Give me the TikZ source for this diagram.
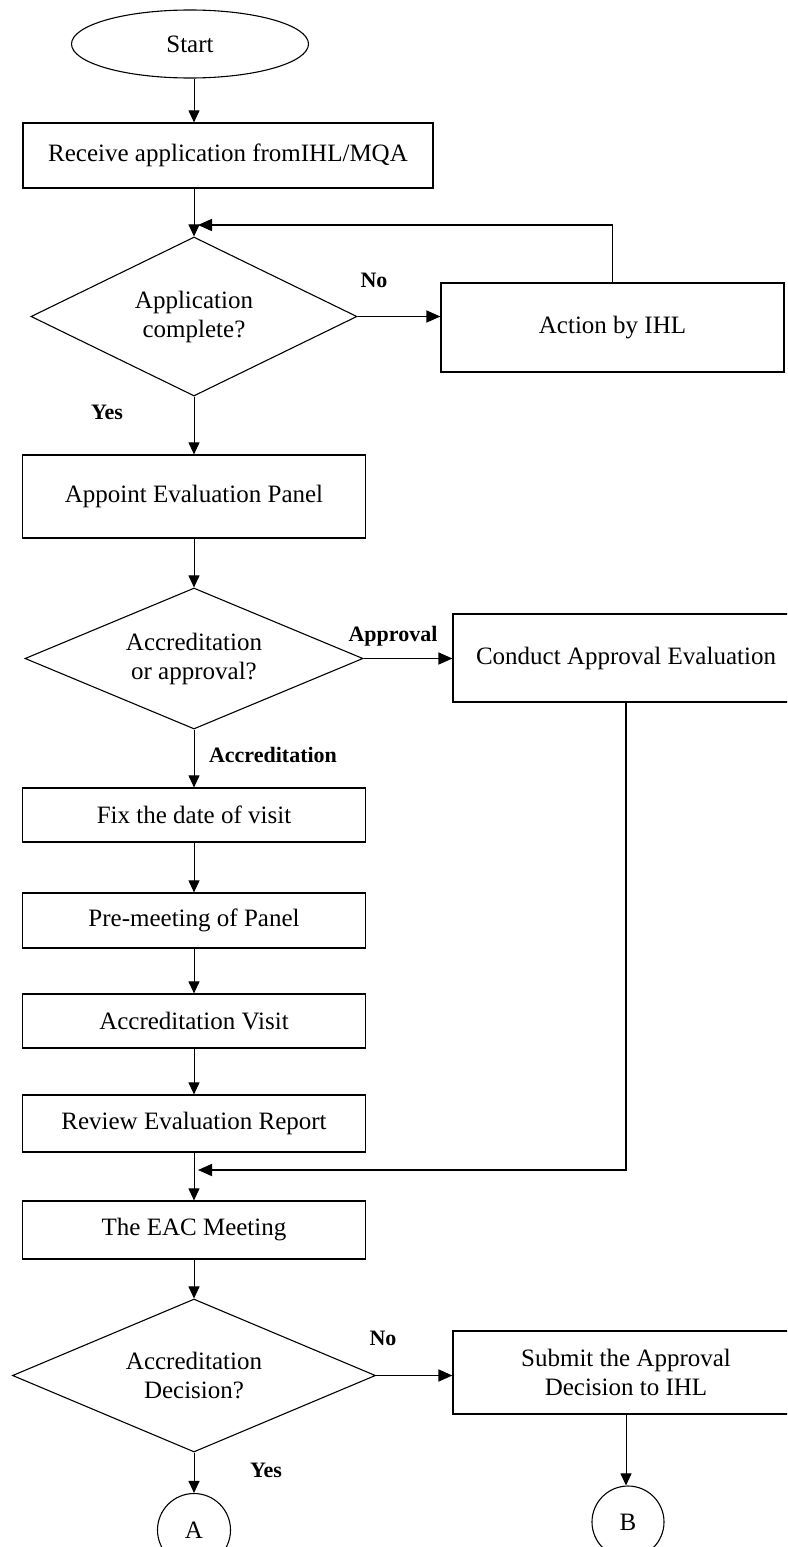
\documentclass[tikz,border=0pt]{standalone}
\usepackage{fontspec}
\setmainfont{Liberation Serif}
\usetikzlibrary{shapes.geometric,arrows.meta}

\begin{document}
\begin{tikzpicture}[x=1pt,y=-1pt,
    box/.style={draw,rectangle,line width=1.2pt,minimum width=343pt,inner sep=0pt,font=\fontsize{25}{29}\selectfont,align=center},
    decision/.style={draw,diamond,aspect=2,inner sep=0pt,line width=1.1pt,font=\fontsize{25}{29}\selectfont,align=center},
    term/.style={draw,ellipse,inner sep=0pt,line width=1.1pt,font=\fontsize{25}{29}\selectfont},
    lbl/.style={font=\fontsize{22}{26}\selectfont\bfseries},
    arr/.style={-{Triangle[length=12pt,width=11pt]},line width=1pt},
    thickarr/.style={-{Triangle[length=14pt,width=12pt]},line width=1.6pt}]
    \useasboundingbox (0,0) rectangle (787,1547);
    \clip (0,0) rectangle (787,1547);

    \node[term,minimum width=237pt,minimum height=68pt] (start) at (190,44) {Start};
    \node[box,minimum width=410pt,minimum height=65pt] (recv) at (228,155.5) {Receive application fromIHL/MQA};

    \node[decision,minimum width=326pt,minimum height=159pt] (d1) at (194,316.5) {Application\\complete?};
    \node[box,minimum height=89pt] (act) at (612.5,327.5) {Action by IHL};
    \node[box,minimum height=83pt] (appoint) at (194,496.5) {Appoint Evaluation Panel};

    \node[decision,minimum width=338pt,minimum height=141pt] (d2) at (194,658.5) {Accreditation\\or approval?};
    \node[box,minimum width=346pt,minimum height=88pt] (cond) at (626,658) {Conduct Approval Evaluation};

    \node[box,minimum height=54pt] (fix) at (194,815) {Fix the date of visit};
    \node[box,minimum height=55pt] (pre) at (194,920.5) {Pre-meeting of Panel};
    \node[box,minimum height=54pt] (visit) at (194,1021) {Accreditation Visit};
    \node[box,minimum height=57pt] (review) at (194,1123.5) {Review Evaluation Report};
    \node[box,minimum height=58pt] (eac) at (194,1230) {The EAC Meeting};

    \node[decision,minimum width=363pt,minimum height=153pt] (d3) at (194,1375.5) {Accreditation\\Decision?};
    \node[box,minimum width=346pt,minimum height=83pt] (submit) at (626,1372.5) {Submit the Approval\\Decision to IHL};

    \node[term,circle,minimum size=73pt] (A) at (194,1530) {A};
    \node[term,circle,minimum size=72pt] (B) at (628,1522) {B};

    \node[lbl] (no1) at (374,280) {No};
    \node[lbl] (yes1) at (107,412) {Yes};
    \node[lbl] (apv) at (393,636) {Approval};
    \node[lbl] (acc) at (273,755) {Accreditation};
    \node[lbl] (no2) at (383,1338) {No};
    \node[lbl] (yes2) at (266,1470) {Yes};

    \coordinate (back) at (198,225);
    \coordinate (merge) at (198,1170);

    \draw[arr] (start.south -| d1) -- (recv.north -| d1);
    \draw[arr] (recv.south -| d1) -- (d1.north);
    \draw[thickarr] (d1.east) -- (d1.east -| act.west);
    \draw[thickarr] (act.north) |- (back);
    \draw[arr] (d1.south) -- (appoint.north);
    \draw[arr] (appoint.south) -- (d2.north);
    \draw[thickarr] (d2.east) -- (d2.east -| cond.west);
    \draw[arr] (d2.south) -- (fix.north);
    \draw[arr] (fix) -- (pre);
    \draw[arr] (pre) -- (visit);
    \draw[arr] (visit) -- (review);
    \draw[arr] (review) -- (eac);
    \draw[thickarr] (cond.south) |- (merge);
    \draw[arr] (eac) -- (d3);
    \draw[thickarr] (d3.east) -- (d3.east -| submit.west);
    \draw[arr] (d3.south) -- (A.north);
    \draw[arr] (submit.south) -- (submit.south |- B.north);
  \end{tikzpicture}
\end{document}
